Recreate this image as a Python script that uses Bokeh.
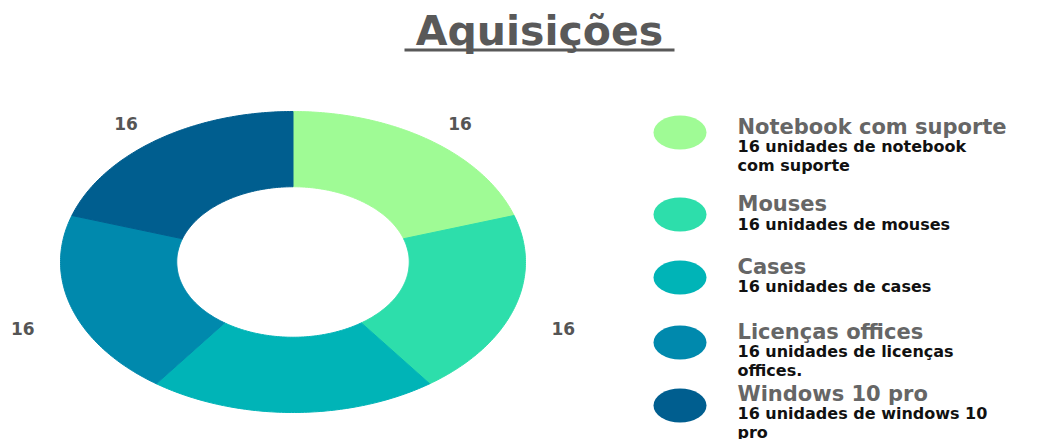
import numpy as np
from bokeh.plotting import figure
from bokeh.models import Range1d
from bokeh.embed import file_html
from bokeh.resources import INLINE
from bokeh.core.properties import value

# ---------------- data ----------------
title_text = "Aquisições"
categories = ["Notebook com suporte", "Mouses", "Cases", "Licenças offices", "Windows 10 pro"]
values = [16, 16, 16, 16, 16]
descriptions = [
    "16 unidades de notebook\ncom suporte",
    "16 unidades de mouses",
    "16 unidades de cases",
    "16 unidades de licenças\noffices.",
    "16 unidades de windows 10\npro",
]
colors = ["#9ffb95", "#2ddeab", "#00b4b7", "#0089ad", "#005e8f"]

# ---------------- layout (picture pixels) ----------------
W, H, OFF = 1042, 439, 0
CXP, CYP = 292.5, 261.5      # donut centre
RX, RY = 232.5, 150.5        # outer radii in px (elliptical donut)
INNER = 0.5
LABEL_R = 1.222
LABEL_DY = 10
FONT = "DejaVu Sans"


def X(px):
    return (px - CXP) / RX


def Y(py):
    return (CYP - py) / RY


p = figure(width=W, height=H, output_backend="svg", toolbar_location=None,
           x_range=Range1d(X(OFF), X(OFF + W)), y_range=Range1d(Y(OFF + H), Y(OFF)),
           x_axis_location=None, y_axis_location=None, min_border=0,
           outline_line_color=None, background_fill_color="white",
           border_fill_color="white")
p.grid.visible = False

# ---------------- donut ----------------
total = float(sum(values))
xs, ys, lx, ly, ltxt = [], [], [], [], []
acc = 0.0
for v in values:
    a0 = 2 * np.pi * acc / total
    a1 = 2 * np.pi * (acc + v) / total
    t = np.linspace(a0, a1, 90)
    ox, oy = np.sin(t), np.cos(t)
    xs.append(list(ox) + list(INNER * ox[::-1]))
    ys.append(list(oy) + list(INNER * oy[::-1]))
    mid = (a0 + a1) / 2
    yy = LABEL_R * np.cos(mid) - LABEL_DY / RY
    # labels that fall outside the visible canvas are not shown (as in the reference)
    if yy > Y(OFF + H) + 12 / RY:
        lx.append(LABEL_R * np.sin(mid))
        ly.append(yy)
        ltxt.append(str(v))
    acc += v

p.patches(xs=xs, ys=ys, fill_color=colors, line_color=colors, line_width=1)
p.text(x=lx, y=ly, text=ltxt, text_font=value(FONT), text_font_style="bold",
       text_font_size="17px", text_color="#555555", text_align="center",
       text_baseline="middle")

# ---------------- title ----------------
p.text(x=[X(539)], y=[Y(30)], text=[title_text], text_font=value(FONT),
       text_font_style="bold", text_font_size="41px", text_color="#595959",
       text_align="center", text_baseline="middle")
p.segment(x0=[X(404)], y0=[Y(49.5)], x1=[X(674)], y1=[Y(49.5)],
          line_color="#595959", line_width=3)

# ---------------- legend ----------------
dot_y = [132, 214, 277, 342, 405]
title_y = [126.3, 203.7, 266.3, 331.3, 393]     # cap-centre of legend titles
p.ellipse(x=[X(679.5)] * len(categories), y=[Y(v) for v in dot_y],
          width=53, height=34, width_units="screen", height_units="screen",
          fill_color=colors, line_color=None)
p.text(x=[X(737)] * len(categories), y=[Y(v) for v in title_y], text=categories,
       text_font=value(FONT), text_font_style="bold", text_font_size="21px",
       text_color="#666666", text_align="left", text_baseline="middle")
sx, sy, st = [], [], []
for ty, d in zip(title_y, descriptions):
    for k, line in enumerate(d.split("\n")):
        sx.append(X(737))
        sy.append(Y(ty + 20 + 18.5 * k))
        st.append(line)
p.text(x=sx, y=sy, text=st, text_font=value(FONT), text_font_style="bold",
       text_font_size="16px", text_color="#111111", text_align="left",
       text_baseline="middle")

open("out.html", "w").write(file_html(p, INLINE))
